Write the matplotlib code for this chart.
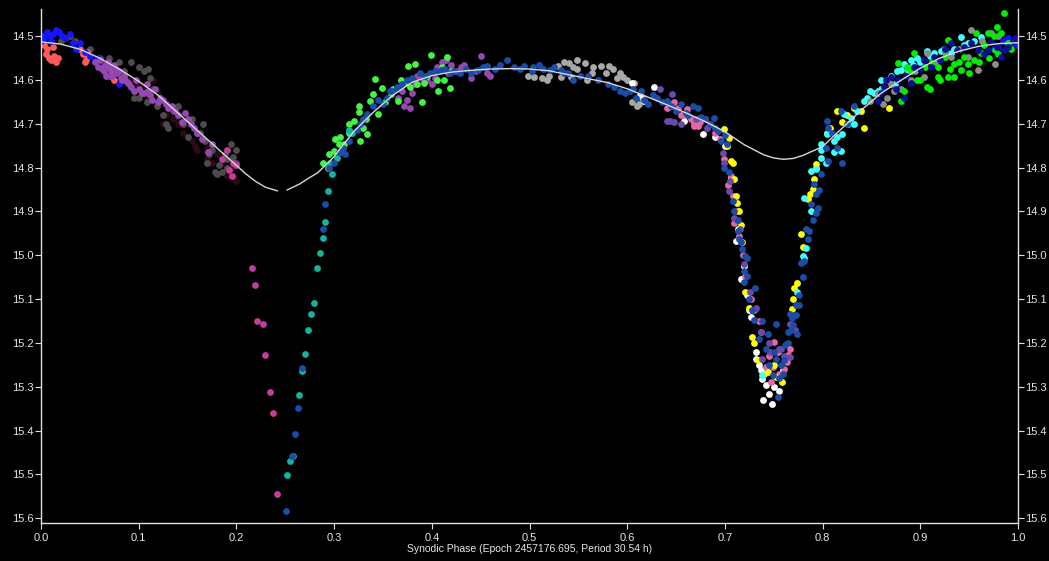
import matplotlib.pyplot as plt

# light curve: synodic phase vs magnitude, one list pair per session colour

# fit curve
fit_phase = [0.0, 0.02, 0.04, 0.06, 0.08, 0.10, 0.12, 0.14, 0.16, 0.18, 0.20, 0.21, 0.22, 0.23,
             0.242,
             0.252, 0.265, 0.2725, 0.283, 0.29, 0.30, 0.306, 0.32, 0.34, 0.36, 0.38, 0.40, 0.42,
             0.44, 0.46, 0.48, 0.50, 0.52, 0.54, 0.56, 0.58, 0.60, 0.62, 0.64, 0.66, 0.68, 0.70,
             0.72, 0.74, 0.75, 0.76, 0.77, 0.78, 0.80, 0.82, 0.84, 0.86, 0.88, 0.90, 0.92, 0.94,
             0.96, 0.98, 1.0]
fit_mag = [14.513, 14.518, 14.53, 14.55, 14.575, 14.603, 14.635, 14.675, 14.715, 14.755, 14.795,
           14.815, 14.832, 14.845, 14.853,
           14.851, 14.837, 14.826, 14.812, 14.797, 14.775, 14.757, 14.718, 14.674, 14.635,
           14.605, 14.59, 14.582, 14.578, 14.575, 14.574, 14.575, 14.579, 14.588, 14.597,
           14.606, 14.62, 14.638, 14.656, 14.675, 14.695, 14.718, 14.748, 14.771, 14.778, 14.781,
           14.779, 14.772, 14.752, 14.71, 14.668, 14.63, 14.601, 14.573, 14.55, 14.534, 14.523,
           14.517, 14.515]
fit_gap = 15  # curve is broken near the primary minimum

maroon_ph = [0.09, 0.1, 0.11, 0.12, 0.13, 0.135, 0.14, 0.145, 0.15, 0.155, 0.16, 0.165, 0.17,
             0.18, 0.19, 0.195, 0.2, 0.125, 0.185,
             0.105, 0.115, 0.128, 0.14, 0.158, 0.175, 0.19, 0.198, 0.17]
maroon_mag = [14.6, 14.61, 14.64, 14.63, 14.66, 14.69, 14.68, 14.72, 14.70, 14.74, 14.76, 14.73,
              14.78, 14.77, 14.82, 14.80, 14.83, 14.70, 14.79,
              14.62, 14.60, 14.68, 14.70, 14.75, 14.79, 14.80, 14.82, 14.755]

dgray_ph = [0.02, 0.025, 0.05, 0.06, 0.092, 0.095, 0.1, 0.1, 0.105, 0.112, 0.115, 0.119, 0.125,
            0.128, 0.13, 0.14, 0.15, 0.16, 0.163, 0.166, 0.17, 0.175, 0.178, 0.18, 0.185, 0.19,
            0.194, 0.197, 0.19, 0.2,
            0.03, 0.035, 0.07, 0.08, 0.085, 0.11, 0.108, 0.135, 0.145, 0.155, 0.168, 0.172,
            0.182, 0.188, 0.2]
dgray_mag = [14.51, 14.505, 14.53, 14.55, 14.56, 14.64, 14.57, 14.64, 14.58, 14.595, 14.62, 14.66,
             14.68, 14.70, 14.71, 14.66, 14.73, 14.72, 14.72, 14.70, 14.79, 14.76, 14.81, 14.815,
             14.81, 14.78, 14.745, 14.775, 14.80, 14.76,
             14.50, 14.51, 14.55, 14.56, 14.58, 14.575, 14.65, 14.67, 14.70, 14.69, 14.74, 14.77,
             14.795, 14.77, 14.79]

red_ph = [0.003, 0.006, 0.008, 0.01, 0.013, 0.015, 0.017, 0.04, 0.043, 0.046, 0.048, 0.07, 0.075,
          0.005, 0.012, 0.045, 0.047]
red_mag = [14.52, 14.53, 14.55, 14.555, 14.545, 14.56, 14.55, 14.53, 14.54, 14.555, 14.545,
           14.59, 14.60, 14.54, 14.525, 14.56, 14.535]

blue_ph = [0.0, 0.003, 0.006, 0.009, 0.012, 0.015, 0.018, 0.021, 0.03, 0.033, 0.036, 0.045, 0.05,
           0.055, 0.058, 0.068, 0.08, 0.985, 0.99, 0.995, 0.999, 0.975, 0.98,
           0.002, 0.01, 0.025, 0.04, 0.062, 0.99]
blue_mag = [14.51, 14.505, 14.49, 14.50, 14.495, 14.485, 14.49, 14.50, 14.495, 14.515, 14.53,
            14.535, 14.545, 14.555, 14.55, 14.59, 14.61, 14.51, 14.505, 14.515, 14.52, 14.53, 14.525,
            14.50, 14.51, 14.505, 14.515, 14.57, 14.52]

purple_ph = [0.055, 0.06, 0.062, 0.065, 0.067, 0.07, 0.072, 0.075, 0.078, 0.08, 0.083, 0.085,
             0.088, 0.09, 0.095, 0.1, 0.105, 0.108, 0.112, 0.117, 0.12, 0.122, 0.128, 0.134, 0.14,
             0.144, 0.147, 0.154, 0.16, 0.171, 0.175,
             0.058, 0.064, 0.069, 0.073, 0.077, 0.082, 0.086, 0.092, 0.097, 0.103, 0.11, 0.114,
             0.125, 0.13, 0.137, 0.15, 0.157, 0.165,
             0.365, 0.37, 0.372, 0.375, 0.378, 0.38, 0.383, 0.385, 0.39, 0.395, 0.4, 0.403, 0.405,
             0.41, 0.415, 0.417, 0.42, 0.425, 0.43, 0.433, 0.44, 0.445, 0.45, 0.455, 0.457, 0.46]
purple_mag = [14.56, 14.555, 14.575, 14.565, 14.59, 14.57, 14.58, 14.565, 14.585, 14.58, 14.60,
              14.59, 14.605, 14.61, 14.625, 14.62, 14.63, 14.61, 14.635, 14.62, 14.65, 14.64,
              14.655, 14.66, 14.68, 14.695, 14.675, 14.70, 14.72, 14.765, 14.745,
              14.57, 14.58, 14.56, 14.59, 14.575, 14.595, 14.60, 14.615, 14.60, 14.63, 14.625,
              14.645, 14.645, 14.665, 14.67, 14.69, 14.71, 14.735,
              14.64, 14.625, 14.66, 14.645, 14.665, 14.63, 14.61, 14.59, 14.595, 14.60, 14.61,
              14.595, 14.57, 14.56, 14.555, 14.585, 14.565, 14.58, 14.57, 14.565, 14.595, 14.58,
              14.545, 14.57, 14.585, 14.59]

magenta_ph = [0.185, 0.19, 0.192, 0.195, 0.197, 0.2, 0.216, 0.219, 0.221, 0.227, 0.229, 0.234,
              0.237, 0.242]
magenta_mag = [14.78, 14.76, 14.805, 14.82, 14.79, 14.795, 15.028, 15.067, 15.151, 15.156,
               15.227, 15.312, 15.36, 15.544]

lgray_ph = [0.535, 0.54, 0.549, 0.557, 0.549, 0.498, 0.505, 0.513, 0.532, 0.542, 0.559, 0.564,
            0.573, 0.581, 0.593, 0.59, 0.605, 0.612, 0.607, 0.529, 0.518, 0.596, 0.585,
            0.52, 0.545, 0.565, 0.578, 0.60, 0.615, 0.61]
lgray_mag = [14.56, 14.562, 14.555, 14.562, 14.575, 14.59, 14.594, 14.596, 14.594, 14.594,
             14.601, 14.585, 14.567, 14.567, 14.585, 14.596, 14.651, 14.654, 14.608, 14.567,
             14.60, 14.594, 14.575, 14.59, 14.57, 14.57, 14.585, 14.60, 14.64, 14.66]

lime_ph = [0.289, 0.294, 0.301, 0.306, 0.32, 0.327, 0.325, 0.33, 0.337, 0.342, 0.345, 0.34,
           0.349, 0.365, 0.373, 0.376, 0.383, 0.39, 0.399, 0.406, 0.416, 0.412, 0.419, 0.392,
           0.378, 0.358, 0.334, 0.3, 0.325, 0.31, 0.315,
           0.295, 0.305, 0.315, 0.333, 0.352, 0.36, 0.368, 0.385, 0.395, 0.405, 0.41, 0.42]
lime_mag = [14.79, 14.80, 14.734, 14.731, 14.693, 14.739, 14.674, 14.709, 14.647, 14.597, 14.677,
            14.631, 14.619, 14.647, 14.608, 14.567, 14.564, 14.651, 14.544, 14.624, 14.548,
            14.601, 14.619, 14.608, 14.617, 14.631, 14.723, 14.761, 14.66, 14.745, 14.70,
            14.77, 14.745, 14.72, 14.69, 14.65, 14.62, 14.60, 14.61, 14.59, 14.60, 14.57, 14.58]

teal_ph = [0.252, 0.255, 0.258, 0.264, 0.267, 0.27, 0.273, 0.276, 0.279, 0.283, 0.286, 0.289,
           0.291, 0.294, 0.298, 0.296, 0.303, 0.306, 0.315, 0.318]
teal_mag = [15.502, 15.47, 15.457, 15.318, 15.264, 15.225, 15.17, 15.135, 15.11, 15.03, 14.995,
            14.96, 14.924, 14.853, 14.815, 14.79, 14.777, 14.765, 14.715, 14.72]

white_ph = [0.605, 0.617, 0.627, 0.613, 0.658, 0.678, 0.706, 0.711, 0.72, 0.716, 0.723, 0.725,
            0.732, 0.732, 0.737, 0.738, 0.742, 0.745, 0.75, 0.739, 0.759, 0.718,
            0.645, 0.67, 0.69, 0.70, 0.713, 0.727, 0.735, 0.755, 0.748]
white_mag = [14.608, 14.647, 14.617, 14.635, 14.693, 14.723, 14.823, 14.968, 15.025, 15.055,
             15.09, 15.124, 15.22, 15.236, 15.262, 15.282, 15.296, 15.317, 15.30, 15.33, 15.262,
             15.055, 14.66, 14.70, 14.73, 14.75, 14.94, 15.14, 15.25, 15.31, 15.34]

pink_ph = [0.641, 0.652, 0.661, 0.668, 0.648, 0.675, 0.668, 0.675, 0.699, 0.706, 0.703, 0.708,
           0.709, 0.714, 0.721, 0.73, 0.737, 0.75, 0.754, 0.742, 0.749, 0.747, 0.765, 0.764,
           0.767, 0.685, 0.66,
           0.655, 0.665, 0.672, 0.68, 0.69, 0.695, 0.712, 0.719, 0.727, 0.735, 0.745, 0.755, 0.76]
pink_mag = [14.663, 14.665, 14.667, 14.70, 14.65, 14.695, 14.704, 14.686, 14.78, 14.82, 14.84,
            14.865, 14.927, 14.956, 15.048, 15.124, 15.174, 15.197, 15.22, 15.255, 15.255,
            15.289, 15.227, 15.243, 15.213, 14.70, 14.68,
            14.68, 14.69, 14.705, 14.69, 14.72, 14.735, 14.90, 15.0, 15.1, 15.15, 15.23, 15.27,
            15.26]

slate_ph = [0.641, 0.648, 0.634, 0.646, 0.682, 0.698, 0.699, 0.704, 0.709, 0.712, 0.726, 0.737,
            0.767, 0.755, 0.757, 0.767, 0.738, 0.746, 0.644,
            0.655, 0.67, 0.69, 0.705, 0.715, 0.72, 0.732, 0.745, 0.76, 0.772]
slate_mag = [14.693, 14.695, 14.62, 14.631, 14.709, 14.766, 14.79, 14.853, 14.915, 14.92, 15.083,
             15.174, 15.158, 15.213, 15.215, 15.232, 15.236, 15.22, 14.693,
             14.70, 14.69, 14.71, 14.83, 14.94, 15.02, 15.12, 15.20, 15.23, 15.17]

yellow_ph = [0.699, 0.704, 0.706, 0.708, 0.709, 0.711, 0.714, 0.716, 0.79, 0.785, 0.778, 0.774,
             0.771, 0.769, 0.721, 0.728, 0.734, 0.744, 0.752, 0.74, 0.764, 0.75, 0.815, 0.832,
             0.839, 0.842, 0.82, 0.868, 0.808, 0.793, 0.791, 0.793,
             0.702, 0.712, 0.718, 0.725, 0.73, 0.758, 0.77, 0.78, 0.787, 0.805, 0.825]
yellow_mag = [14.711, 14.732, 14.784, 14.79, 14.826, 14.865, 14.90, 14.93, 14.849, 14.872,
              14.952, 15.064, 15.075, 15.122, 15.083, 15.186, 15.239, 15.266, 15.278, 15.27,
              15.202, 15.25, 14.67, 14.663, 14.67, 14.709, 14.697, 14.665, 14.709, 14.791,
              14.826, 14.80,
              14.75, 14.88, 14.97, 15.12, 15.20, 15.29, 15.10, 14.98, 14.86, 14.72, 14.68]

cyan_ph = [0.781, 0.798, 0.805, 0.812, 0.82, 0.829, 0.832, 0.842, 0.849, 0.86, 0.866, 0.88,
           0.883, 0.89, 0.897, 0.914, 0.921, 0.924, 0.942, 0.949, 0.962, 0.819, 0.812, 0.788,
           0.822, 0.857, 0.874, 0.887, 0.907, 0.931, 0.798, 0.788, 0.783, 0.781, 0.793, 0.798,
           0.78, 0.774, 0.738,
           0.835, 0.845, 0.853, 0.87, 0.876, 0.893, 0.90, 0.91, 0.935, 0.945, 0.955, 0.815,
           0.826, 0.803, 0.86]
cyan_mag = [14.869, 14.778, 14.723, 14.739, 14.723, 14.686, 14.70, 14.647, 14.624, 14.601, 14.60,
            14.578, 14.564, 14.555, 14.55, 14.539, 14.534, 14.53, 14.502, 14.516, 14.502, 14.761,
            14.765, 14.807, 14.677, 14.624, 14.61, 14.578, 14.534, 14.539, 14.746, 14.90, 14.984,
            15.007, 14.803, 14.76, 15.002, 15.083, 15.273,
            14.67, 14.64, 14.63, 14.59, 14.58, 14.565, 14.56, 14.545, 14.53, 14.52, 14.51, 14.73,
            14.70, 14.79, 14.62]

dblue_ph = [0.251, 0.257, 0.26, 0.263, 0.267, 0.289, 0.291,
            0.295, 0.3, 0.309, 0.311, 0.323, 0.327, 0.334, 0.34, 0.35, 0.354, 0.357, 0.364, 0.37,
            0.388, 0.398, 0.409, 0.419, 0.429, 0.447, 0.457, 0.465, 0.477, 0.484, 0.494, 0.504,
            0.503, 0.514, 0.521, 0.532, 0.539, 0.545, 0.552, 0.586, 0.593, 0.603, 0.609, 0.614,
            0.621, 0.631, 0.641, 0.655, 0.662, 0.672, 0.68, 0.689, 0.693, 0.696,
            0.305, 0.315, 0.33, 0.345, 0.36, 0.375, 0.38, 0.393, 0.403, 0.413, 0.423, 0.435,
            0.44, 0.452, 0.47, 0.49, 0.51, 0.525, 0.535, 0.56, 0.57, 0.58, 0.598, 0.606, 0.617,
            0.626, 0.636, 0.645, 0.65, 0.66, 0.667, 0.676, 0.685, 0.69, 0.70, 0.702,
            0.699, 0.704, 0.708, 0.709, 0.713, 0.713, 0.714, 0.718, 0.723, 0.721, 0.72, 0.723,
            0.731, 0.725, 0.728, 0.73, 0.738, 0.744, 0.742, 0.75, 0.752, 0.757, 0.749, 0.759,
            0.754, 0.752, 0.765, 0.769, 0.767, 0.773, 0.776, 0.778, 0.762, 0.768, 0.774, 0.781,
            0.776, 0.773, 0.783, 0.786, 0.785, 0.788, 0.791, 0.793, 0.793, 0.795,
            0.716, 0.72, 0.735, 0.745, 0.755, 0.76, 0.765, 0.77, 0.78, 0.79, 0.796,
            0.798, 0.803, 0.805, 0.806, 0.806, 0.815, 0.819, 0.82, 0.832, 0.81, 0.825]
dblue_mag = [15.583, 15.459, 15.408, 15.348, 15.257, 14.94, 14.883,
             14.80, 14.79, 14.755, 14.77, 14.715, 14.70, 14.677, 14.66, 14.654, 14.64, 14.624,
             14.617, 14.61, 14.585, 14.585, 14.578, 14.585, 14.585, 14.578, 14.567, 14.575,
             14.555, 14.57, 14.567, 14.57, 14.58, 14.574, 14.578, 14.578, 14.583, 14.60, 14.59,
             14.617, 14.624, 14.624, 14.64, 14.624, 14.654, 14.64, 14.647, 14.654, 14.68, 14.663,
             14.69, 14.686, 14.716, 14.739,
             14.765, 14.74, 14.69, 14.645, 14.625, 14.60, 14.595, 14.59, 14.58, 14.575, 14.58,
             14.575, 14.585, 14.57, 14.565, 14.575, 14.565, 14.57, 14.585, 14.59, 14.60, 14.61,
             14.63, 14.62, 14.645, 14.635, 14.65, 14.66, 14.67, 14.675, 14.66, 14.685, 14.70,
             14.71, 14.725, 14.745,
             14.80, 14.81, 14.876, 14.90, 14.92, 14.945, 14.963, 14.986, 15.007, 15.002, 15.037,
             15.048, 15.075, 15.099, 15.124, 15.147, 15.151, 15.179, 15.213, 15.22, 15.236, 15.25,
             15.273, 15.271, 15.323, 15.158, 15.174, 15.144, 15.133, 15.113, 15.09, 15.018,
             15.204, 15.17, 15.179, 15.014, 15.113, 15.136, 14.94, 14.945, 14.963, 14.883, 14.837,
             14.86, 14.903, 14.892,
             14.97, 15.06, 15.19, 15.25, 15.28, 15.24, 15.20, 15.16, 15.05, 14.92, 14.85,
             14.815, 14.755, 14.693, 14.709, 14.784, 14.755, 14.67, 14.789, 14.66, 14.72, 14.70]

gray_ph = [0.849, 0.866, 0.873, 0.89, 0.904, 0.907, 0.949, 0.952, 0.959, 0.972, 0.976, 0.931,
           0.857, 0.87, 0.88, 0.895, 0.915, 0.925, 0.94, 0.963, 0.98, 0.862]
gray_mag = [14.647, 14.64, 14.624, 14.601, 14.594, 14.539, 14.548, 14.486, 14.578, 14.493,
            14.564, 14.548, 14.63, 14.61, 14.62, 14.58, 14.56, 14.535, 14.53, 14.51, 14.50, 14.655]

green_ph = [0.877, 0.894, 0.907, 0.918, 0.928, 0.935, 0.942, 0.949, 0.955, 0.925, 0.918, 0.945,
            0.962, 0.969, 0.979, 0.986, 0.983, 0.976, 0.99, 0.88, 0.883, 0.897, 0.935, 0.957,
            0.928, 0.89, 0.90, 0.905, 0.912, 0.92, 0.93, 0.94, 0.95, 0.96, 0.965, 0.97, 0.975,
            0.98, 0.993, 0.886, 0.91]
green_mag = [14.562, 14.539, 14.617, 14.594, 14.594, 14.594, 14.578, 14.564, 14.555, 14.548,
             14.57, 14.548, 14.539, 14.493, 14.479, 14.447, 14.493, 14.532, 14.516, 14.647,
             14.624, 14.60, 14.564, 14.493, 14.509, 14.58, 14.60, 14.57, 14.56, 14.60, 14.575,
             14.56, 14.585, 14.56, 14.52, 14.55, 14.50, 14.54, 14.53, 14.57, 14.62]

navy_ph = [0.857, 0.863, 0.87, 0.89, 0.894, 0.904, 0.911, 0.914, 0.952, 0.959, 0.969, 0.972,
           0.983, 0.986, 0.99, 0.86, 0.877, 0.883, 0.931, 0.938,
           0.865, 0.875, 0.885, 0.90, 0.92, 0.925, 0.945, 0.965, 0.978, 0.995, 0.997]
navy_mag = [14.647, 14.617, 14.594, 14.608, 14.571, 14.555, 14.571, 14.548, 14.516, 14.532,
            14.532, 14.514, 14.548, 14.532, 14.525, 14.63, 14.60, 14.64, 14.516, 14.532,
            14.60, 14.62, 14.59, 14.575, 14.555, 14.53, 14.525, 14.54, 14.525, 14.51, 14.505]

fig = plt.figure(figsize=(10.49, 5.61), dpi=100, facecolor='black')
ax = fig.add_axes([41 / 1049, 38 / 561, 977 / 1049, 514 / 561])
ax.set_facecolor('black')

series = [
    (maroon_ph, maroon_mag, '#2c0a16'),
    (dgray_ph, dgray_mag, '#4c4c4c'),
    (red_ph, red_mag, '#ff5a5a'),
    (blue_ph, blue_mag, '#1414ff'),
    (purple_ph, purple_mag, '#9448b0'),
    (magenta_ph, magenta_mag, '#c43c9c'),
    (lgray_ph, lgray_mag, '#a8a8a8'),
    (lime_ph, lime_mag, '#44f444'),
    (teal_ph, teal_mag, '#12b4a0'),
    (white_ph, white_mag, '#ffffff'),
    (pink_ph, pink_mag, '#e466a8'),
    (yellow_ph, yellow_mag, '#ffff00'),
    (slate_ph, slate_mag, '#6a4aa8'),
    (cyan_ph, cyan_mag, '#40ffff'),
    (dblue_ph, dblue_mag, '#1a4ca8'),
    (gray_ph, gray_mag, '#8c8c8c'),
    (green_ph, green_mag, '#00ee00'),
    (navy_ph, navy_mag, '#0c1090'),
]
for ph, mag, col in series:
    ax.scatter(ph, mag, s=24, c=col, linewidths=0, zorder=2)

ax.plot(fit_phase[:fit_gap], fit_mag[:fit_gap], color='#d8d8d8', lw=1.0, zorder=3)
ax.plot(fit_phase[fit_gap:], fit_mag[fit_gap:], color='#d8d8d8', lw=1.0, zorder=3)

ax.set_xlim(0, 1)
ax.set_ylim(15.611, 14.438)

xt = [i / 10 for i in range(11)]
yt = [14.5 + i / 10 for i in range(12)]
ax.set_xticks(xt)
ax.set_xticklabels([f'{v:.1f}' for v in xt])
ax.set_yticks(yt)
ax.set_yticklabels([f'{v:.1f}' for v in yt])

txt = '#e6e6e6'
for side in ['left', 'right', 'bottom']:
    ax.spines[side].set_color('#e0e0e0')
    ax.spines[side].set_linewidth(1.0)
ax.spines['top'].set_visible(False)
ax.tick_params(axis='both', colors='#e0e0e0', labelcolor=txt, labelsize=8,
               length=4, width=0.8, direction='out')
ax.tick_params(axis='y', left=True, right=True, labelleft=True, labelright=True, pad=1)
ax.tick_params(axis='x', pad=3)
for lab in ax.get_xticklabels() + ax.get_yticklabels():
    lab.set_family(['Liberation Sans', 'DejaVu Sans'])

ax.set_xlabel('Synodic Phase (Epoch 2457176.695, Period 30.54 h)', color=txt, fontsize=7.5,
              family=['Liberation Sans', 'DejaVu Sans'], labelpad=1)

fig.savefig('out.png', dpi=100, facecolor='black')
